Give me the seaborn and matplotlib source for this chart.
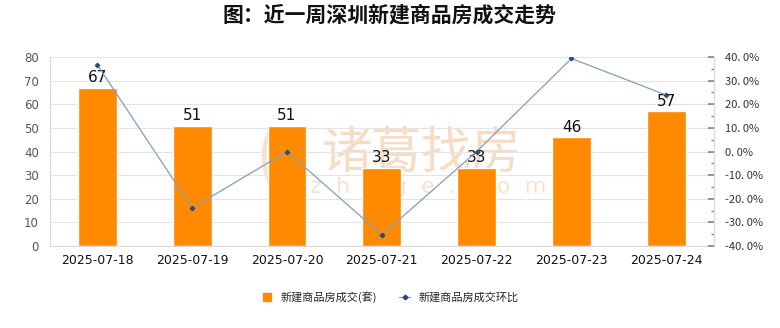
import matplotlib
matplotlib.use("Agg")
import matplotlib.pyplot as plt
from matplotlib.lines import Line2D
from matplotlib.ticker import MultipleLocator, FixedLocator
import seaborn as sns
import pandas as pd

dates = ["2025-07-18", "2025-07-19", "2025-07-20", "2025-07-21",
         "2025-07-22", "2025-07-23", "2025-07-24"]
deals = [67, 51, 51, 33, 33, 46, 57]
change_pct = [36.7, -23.9, 0.0, -35.3, 0.0, 39.4, 23.9]
pct_ticks = [40, 30, 20, 10, 0, -10, -20, -30, -40]

bar_name = "新建商品房成交(套)"
line_name = "新建商品房成交环比"

sns.set_theme(style="white")
plt.rcParams["font.family"] = ["Noto Sans CJK SC", "DejaVu Sans"]

df = pd.DataFrame({"date": dates, "deals": deals, "pct": change_pct})

fig = plt.figure(figsize=(7.8, 3.28), dpi=100)
ax = fig.add_axes([0.064, 0.25, 0.851, 0.576])

# faint site watermark behind the bars
ax.text(0.56, 0.49, "诸葛找房", transform=ax.transAxes, ha="center", va="center",
        fontsize=36, color="#f7dcc4", zorder=0)
ax.text(0.57, 0.31, "z  h  u  g  e  .  c  o  m", transform=ax.transAxes,
        ha="center", va="center", fontsize=16, color="#f7e2cf",
        family="DejaVu Sans", zorder=0)
ax.text(0.34, 0.46, "()", transform=ax.transAxes, ha="center", va="center",
        fontsize=44, color="#f7e2cf", zorder=0)

sns.barplot(data=df, x="date", y="deals", color="#ff8a00", saturation=1,
            width=0.41, ax=ax, zorder=2)
for i, v in enumerate(deals):
    ax.text(i, v + 1.2, str(v), ha="center", va="bottom", fontsize=11,
            color="#111111", family="DejaVu Sans", zorder=6)

ax.set_ylim(0, 80)
ax.set_xlim(-0.5, 6.5)
ax.yaxis.set_major_locator(MultipleLocator(10))
ax.grid(axis="y", color="#e4e4e4", linewidth=0.8, zorder=1)
ax.set_axisbelow(True)
ax.set_xlabel("")
ax.set_ylabel("")
ax.tick_params(axis="y", labelsize=8.5, labelcolor="#555555", length=0, pad=8)
ax.tick_params(axis="x", labelsize=9, labelcolor="#111111", length=0, pad=6)
for lab in ax.get_xticklabels():
    lab.set_family("DejaVu Sans")
for lab in ax.get_yticklabels():
    lab.set_family("DejaVu Sans")
ax.spines["top"].set_visible(False)
for s in ["left", "right", "bottom"]:
    ax.spines[s].set_color("#d9d9d9")
    ax.spines[s].set_linewidth(0.8)

ax2 = ax.twinx()
sns.lineplot(data=df, x="date", y="pct", ax=ax2, color="#7f9fc0", linewidth=0.9,
             marker="D", markersize=2.4, markerfacecolor="#2c4a6b",
             markeredgecolor="#2c4a6b", zorder=4)
ax2.set_ylim(-40, 40)
ax2.set_xlim(-0.5, 6.5)
ax2.yaxis.set_major_locator(FixedLocator(pct_ticks))
ax2.yaxis.set_minor_locator(MultipleLocator(5))
ax2.set_yticklabels([f"{t:.1f}%".replace(".", ". ") for t in pct_ticks])
ax2.tick_params(axis="y", which="both", direction="in", color="#888888",
                labelsize=8, labelcolor="#333333", pad=8)
ax2.tick_params(axis="y", which="major", length=4)
ax2.tick_params(axis="y", which="minor", length=2)
ax2.set_ylabel("")
ax2.set_xlabel("")
ax2.grid(False)
for s in ["top", "left", "bottom"]:
    ax2.spines[s].set_visible(False)
ax2.spines["right"].set_color("#d9d9d9")
ax2.spines["right"].set_linewidth(0.8)
ax.patch.set_visible(False)
ax2.patch.set_visible(False)

fig.suptitle("图：近一周深圳新建商品房成交走势", x=0.5, y=0.985, fontsize=15,
             fontweight="bold", color="#111111")

handles = [
    Line2D([0], [0], marker="s", linestyle="none", markersize=6,
           markerfacecolor="#ff8a00", markeredgecolor="#ff8a00"),
    Line2D([0], [0], color="#7f9fc0", linewidth=0.9, marker="D", markersize=2.4,
           markerfacecolor="#2c4a6b", markeredgecolor="#2c4a6b"),
]
fig.legend(handles, [bar_name, line_name], loc="center", bbox_to_anchor=(0.5, 0.095),
           ncol=2, frameon=False, fontsize=8, handlelength=1.0, columnspacing=2.0,
           handletextpad=0.7)

fig.savefig("out.png", dpi=100, facecolor="white")
